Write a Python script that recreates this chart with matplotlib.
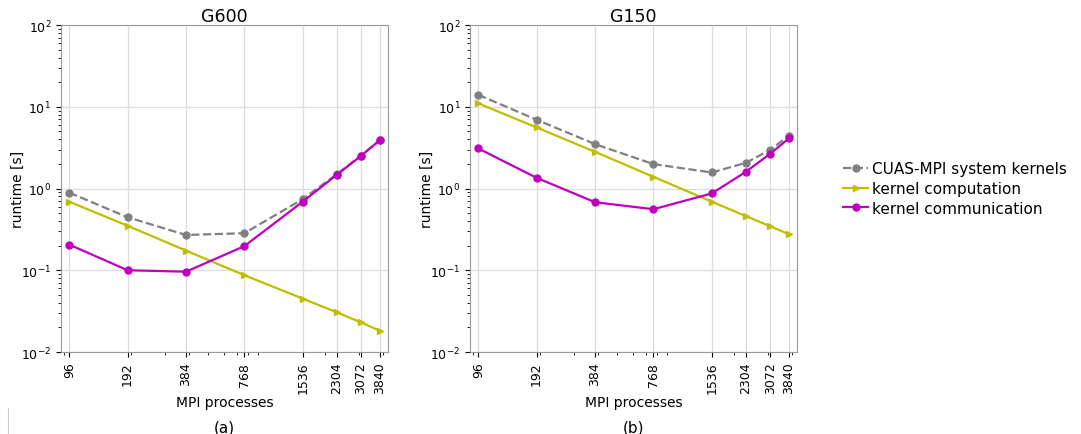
import numpy as np
import matplotlib.pyplot as plt
from matplotlib.lines import Line2D
from matplotlib.ticker import NullFormatter

# MPI process counts
procs = [96, 192, 384, 768, 1536, 2304, 3072, 3840]

# G600 runtimes [s]
g600_total = [0.89, 0.445, 0.27, 0.284, 0.74, 1.5, 2.53, 3.9]
g600_comp = [0.69, 0.35, 0.174, 0.087, 0.045, 0.0306, 0.023, 0.0182]
g600_comm = [0.206, 0.1, 0.096, 0.197, 0.69, 1.47, 2.51, 3.9]

# G150 runtimes [s]
g150_total = [14.0, 6.93, 3.49, 1.99, 1.57, 2.06, 2.97, 4.42]
g150_comp = [11.0, 5.58, 2.81, 1.39, 0.69, 0.46, 0.346, 0.276]
g150_comm = [3.09, 1.35, 0.68, 0.558, 0.87, 1.6, 2.66, 4.1]

fig = plt.figure(figsize=(10.81, 4.35), dpi=100)
ax1 = fig.add_axes([0.0564, 0.1885, 0.3025, 0.7517])
ax2 = fig.add_axes([0.4348, 0.1885, 0.3025, 0.7517])

panels = [(ax1, "G600", "(a)", g600_total, g600_comp, g600_comm),
          (ax2, "G150", "(b)", g150_total, g150_comp, g150_comm)]

for ax, title, tag, total, comp, comm in panels:
    ax.plot(procs, total, "--o", color="gray", lw=1.6, ms=5,
            label="CUAS-MPI system kernels")
    ax.plot(procs, comp, "->", color="y", lw=1.6, ms=4.5,
            label="kernel computation")
    ax.plot(procs, comm, "-o", color="m", lw=1.6, ms=5,
            label="kernel communication")
    ax.set_xscale("log")
    ax.set_yscale("log")
    ax.set_xlim(87, 4230)
    ax.set_ylim(1e-2, 1e2)
    ax.set_xticks(procs)
    ax.set_xticklabels([str(p) for p in procs], rotation=90)
    ax.xaxis.set_minor_formatter(NullFormatter())
    ax.tick_params(labelsize=9)
    ax.grid(True, which="major", color="#dddddd", lw=0.9)
    for s in ax.spines.values():
        s.set_color("#999999")
    ax.set_title(title, fontsize=12.5, pad=3)
    ax.set_xlabel("MPI processes", fontsize=10, labelpad=1)
    ax.set_ylabel("runtime [s]", fontsize=10)
    ax.yaxis.set_label_coords(-0.11, 0.5)
    ax.text(0.5, -0.205, tag, transform=ax.transAxes, ha="center",
            va="top", fontsize=11)

ax2.legend(loc="center left", bbox_to_anchor=(1.1, 0.5), frameon=False,
           fontsize=11, handlelength=1.6, handletextpad=0.3,
           labelspacing=0.3)

# faint separator stub at the lower left, as in the source figure
fig.add_artist(Line2D([0.0075, 0.0075], [0.0, 0.06], color="#cccccc", lw=0.8))

fig.savefig("out.png", dpi=100)
